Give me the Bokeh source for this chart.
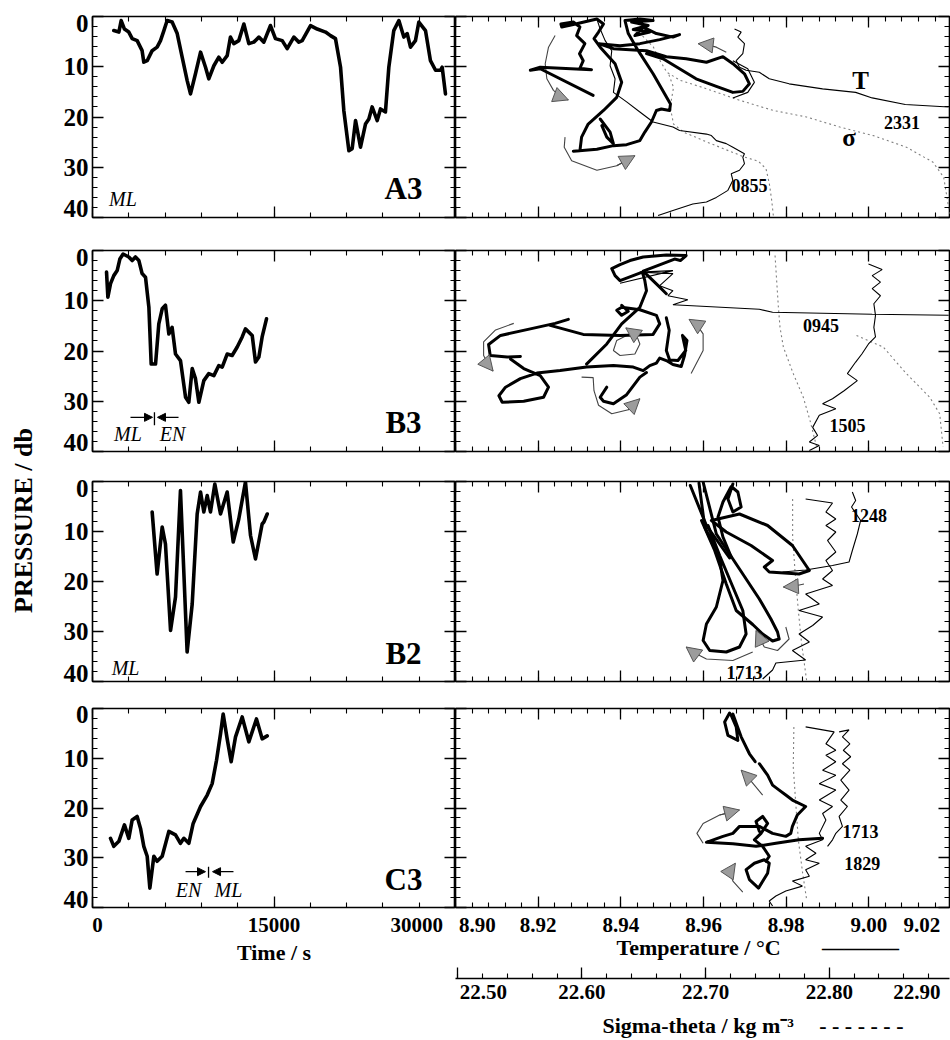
import math
from bokeh.plotting import figure
from bokeh.models import Range1d, LinearAxis, FixedTicker, Arrow, NormalHead
from bokeh.layouts import row, column
from bokeh.embed import file_html
from bokeh.resources import INLINE
from bokeh.core.properties import value

FONT = "Liberation Serif"

# ---------------- axis ticks and labels ----------------
time_ticks = [0, 15000, 30000]
time_minor = [0, 3000, 6000, 9000, 12000, 15000, 18000, 21000, 24000, 27000, 30000]
time_labels = ["0", "15000", "30000"]
time_label_at = [420, 15000, 26800]

pres_ticks = [0, 10, 20, 30, 40]
pres_minor = [0, 2, 4, 6, 8, 10, 12, 14, 16, 18, 20, 22, 24, 26, 28, 30, 32, 34, 36, 38, 40]
pres_labels = ["0", "10", "20", "30", "40"]
pres_label_at = [1.3, 10, 20, 30, 38.3]

temp_ticks = [8.90, 8.92, 8.94, 8.96, 8.98, 9.00, 9.02]
temp_minor = [round(8.90 + 0.004 * i, 3) for i in range(31)]
temp_labels = ["8.90", "8.92", "8.94", "8.96", "8.98", "9.00", "9.02"]
temp_label_at = [8.9053, 8.92, 8.94, 8.96, 8.98, 9.00, 9.0128]

sig_ticks = [22.5, 22.6, 22.7, 22.8, 22.9]
sig_minor = [round(22.5 + 0.02 * i, 2) for i in range(21)]
sig_labels = ["22.50", "22.60", "22.70", "22.80", "22.90"]
sig_label_at = [22.5206, 22.6, 22.7, 22.8, 22.8706]

# axis titles with their line-style samples (solid = temperature, dashed = sigma-theta)
temp_title_at = [8.9588, 8.9980]
temp_title_text = ["Temperature / °C", "———–"]
sig_title_at = [22.694, 22.8258]
sig_title_text = ["Sigma-theta / kg m⁻³", "- - - - - - -"]

# ---------------- left panels: pressure vs time ----------------
A3_time = [1760, 2180, 2370, 2640, 3000, 3280, 3690, 4100, 4240, 4520, 4930, 5340, 5620, 5900, 6170,
           6580, 7000, 7410, 7820, 8100, 8510, 8930, 9340, 9610, 10030, 10440, 10720, 11130, 11400, 11680,
           12090, 12510, 12920, 13330, 13750, 14160, 14710, 15120, 15680, 16090, 16640, 17050, 17330, 18020,
           18570, 19260, 19670, 20080, 20500, 20770, 21190, 21460, 21740, 22150, 22560, 22840, 23110, 23530,
           23800, 24210, 24490, 24900, 25320, 25730, 26010, 26280, 26690, 26970, 27520, 27930, 28350, 28760,
           28900, 29170]
A3_pres = [2.8, 3.1, 0.8, 2.5, 3.1, 4.4, 4.8, 6.8, 9.1, 8.8, 6.8, 6.1, 4.8, 2.8, 0.8,
           1.1, 3.4, 8.1, 12.7, 15.4, 11.4, 7.1, 10.1, 12.4, 9.8, 8.1, 9.1, 7.8, 4.1, 5.4,
           4.8, 1.5, 5.4, 5.1, 4.1, 5.1, 1.8, 4.4, 4.8, 6.4, 4.1, 5.1, 4.8, 1.8,
           2.5, 3.1, 3.8, 4.4, 10.1, 18.7, 26.7, 26.3, 20.7, 26.0, 21.4, 20.4, 18.0, 20.7,
           18.4, 19.0, 10.1, 2.8, 0.8, 4.1, 3.4, 6.1, 4.8, 1.1, 2.8, 8.8, 10.7, 10.7,
           10.1, 15.4]

B3_time = [1160, 1270, 1490, 1760, 2040, 2260, 2530, 3000, 3280, 3550, 3830, 4100, 4380, 4660, 4850,
           5210, 5480, 5760, 6030, 6310, 6580, 6860, 7270, 7690, 7960, 8240, 8510, 8790, 9200, 9610,
           10030, 10440, 10720, 11130, 11540, 11960, 12370, 12640, 13200, 13470, 13750, 14020, 14380]
B3_pres = [4.3, 9.3, 6.6, 5.0, 4.0, 1.7, 0.7, 1.3, 2.0, 1.3, 2.0, 4.6, 5.3, 11.3, 22.6,
           22.6, 14.6, 11.6, 10.9, 16.6, 15.3, 20.6, 21.9, 29.2, 30.2, 23.5, 25.5, 30.2, 25.9, 24.5,
           24.9, 22.9, 23.2, 20.6, 20.9, 19.2, 17.2, 15.6, 16.9, 22.2, 21.2, 17.2, 13.6]

B2_time = [4930, 5340, 5760, 6030, 6450, 6860, 7270, 7820, 8240, 8650, 8930, 9200, 9480, 9750, 10110,
           10580, 11130, 11630, 12090, 12640, 13060, 13470, 14020, 14160, 14440]
B2_pres = [6.1, 18.5, 9.1, 12.5, 29.8, 23.1, 1.8, 34.1, 24.5, 6.5, 2.1, 6.1, 2.8, 6.1, 0.5,
           6.5, 2.1, 12.1, 7.5, 0.1, 10.8, 15.5, 8.5, 8.1, 6.5]

C3_time = [1490, 1760, 2180, 2640, 3000, 3280, 3690, 3970, 4240, 4520, 4740, 5070, 5340, 5760, 6310,
           6860, 7270, 7550, 7960, 8320, 8930, 9480, 9890, 10250, 10580, 10800, 11130, 11460, 11820, 12370,
           12920, 13550, 14020, 14440]
C3_pres = [26.1, 27.7, 26.7, 23.4, 26.1, 22.4, 21.7, 24.1, 27.7, 29.7, 36.1, 29.7, 30.7, 29.7, 24.7,
           25.4, 27.1, 26.1, 27.1, 23.1, 19.7, 17.4, 15.1, 10.4, 5.1, 1.1, 6.1, 10.7, 5.7, 1.7,
           6.7, 2.1, 6.1, 5.5]

panel_names = ["A3", "B3", "B2", "C3"]
name_time, name_pres = 25700, 34.3

# mixed-layer / entrainment markers
A3_ml_text, A3_ml_time, A3_ml_pres = ["ML"], [2520], [36.3]
B2_ml_text, B2_ml_time, B2_ml_pres = ["ML"], [2730], [37.2]
B3_mk_text, B3_mk_time, B3_mk_pres = ["ML", "EN"], [2930, 6610], [36.5, 36.5]
B3_bar_time, B3_bar_p0, B3_bar_p1 = 5120, 32.2, 34.8
B3_arr_from, B3_arr_to, B3_arr_pres = [3140, 7110], [4960, 5370], 33.2
C3_mk_text, C3_mk_time, C3_mk_pres = ["EN", "ML"], [7930, 11240], [36.4, 36.4]
C3_bar_time, C3_bar_p0, C3_bar_p1 = 9590, 31.8, 34.0
C3_arr_from, C3_arr_to, C3_arr_pres = [7690, 11650], [9340, 9920], 32.8

# ---------------- right panels: temperature / sigma-theta vs pressure ----------------
A3_prof_T = [[8.9490, 8.9526, 8.9574, 8.9607, 8.9631, 8.9659, 8.9671, 8.9667, 8.9687, 8.9699, 8.9695, 8.9699,
              8.9671, 8.9655, 8.9631, 8.9619, 8.9607, 8.9542, 8.9526, 8.9478, 8.9446, 8.9414, 8.9382, 8.9386,
              8.9374, 8.9378, 8.9362, 8.9350, 8.9342],
             [9.0193, 9.0088, 9.0008, 8.9968, 8.9888, 8.9807, 8.9759, 8.9735, 8.9703, 8.9687, 8.9679, 8.9695,
              8.9699, 8.9683, 8.9691, 8.9675],
             [8.9671, 8.9707, 8.9723, 8.9707, 8.9671]]
A3_prof_p = [[39.6, 38.6, 37.3, 36.9, 36.0, 34.6, 32.6, 31.3, 30.6, 29.3, 28.0, 27.3,
              26.0, 25.3, 24.7, 23.7, 23.4, 22.7, 22.0, 21.0, 19.0, 17.0, 15.1, 12.4,
              9.8, 6.8, 4.8, 2.5, 0.5],
             [18.0, 17.5, 16.2, 15.1, 14.4, 13.4, 12.4, 11.1, 10.7, 10.1, 8.8, 7.4, 5.4, 4.1, 3.1, 2.5],
             [8.8, 10.4, 13.1, 15.1, 16.2]]
A3_sig_s = [[22.8972, 22.8923, 22.8837, 22.8622, 22.8354, 22.8085, 22.7816, 22.7547, 22.7278, 22.7010,
             22.6795, 22.6687, 22.6633, 22.6579, 22.6472],
            [22.7547, 22.7534, 22.7515, 22.7488, 22.7426, 22.7305, 22.7144, 22.6983, 22.6822, 22.6741,
             22.6714, 22.6741, 22.6701]]
A3_sig_p = [[39.3, 32.0, 29.0, 26.0, 23.7, 22.0, 20.0, 18.7, 16.7, 14.4, 12.7, 11.1, 8.8, 6.1, 3.4],
            [39.6, 36.6, 33.3, 30.3, 28.8, 27.9, 26.3, 24.7, 23.0, 21.4, 18.0, 14.1, 11.4]]
A3_trk_T = [[8.9333, 8.9205, 8.9181, 8.9205, 8.9329, 8.9301, 8.9309, 8.9300, 8.9313, 8.9293, 8.9301, 8.9285,
             8.9255, 8.9257, 8.9285, 8.9342, 8.9358, 8.9346, 8.9335, 8.9350, 8.9386, 8.9402, 8.9390, 8.9358,
             8.9321, 8.9305, 8.9301, 8.9285, 8.9342, 8.9382, 8.9414, 8.9446, 8.9458, 8.9474, 8.9486, 8.9498,
             8.9518, 8.9520, 8.9478, 8.9442, 8.9418, 8.9410, 8.9446, 8.9478, 8.9426, 8.9466, 8.9430, 8.9470,
             8.9434, 8.9454, 8.9486, 8.9526, 8.9542, 8.9494, 8.9446, 8.9398, 8.9346, 8.9382, 8.9462, 8.9510,
             8.9558, 8.9607, 8.9647, 8.9671, 8.9699, 8.9711, 8.9695, 8.9671, 8.9631, 8.9582, 8.9542, 8.9502,
             8.9462],
            [8.9350, 8.9374, 8.9382, 8.9366, 8.9354]]
A3_trk_p = [[15.7, 10.4, 10.7, 10.1, 10.6, 10.3, 8.8, 7.4, 5.4, 3.8, 2.1, 1.1,
             1.5, 2.1, 1.6, 0.5, 1.5, 3.1, 4.4, 6.1, 9.4, 13.1, 16.1, 18.7,
             21.4, 24.0, 26.7, 26.8, 26.4, 25.7, 25.5, 24.7, 23.0, 21.0, 18.7, 18.4,
             18.7, 17.4, 11.4, 6.8, 3.4, 0.8, 0.5, 0.8, 1.1, 1.8, 2.6, 3.1,
             3.8, 2.1, 3.4, 4.1, 3.6, 4.6, 5.4, 5.8, 5.4, 6.4, 6.8, 8.0,
             8.4, 9.1, 8.0, 9.4, 11.4, 13.4, 14.9, 15.1, 13.9, 12.4, 10.4, 8.4,
             7.4],
            [20.4, 23.0, 25.3, 24.0, 21.7]]
A3_arr_T = [[8.9241, 8.9225, 8.9217, 8.9221, 8.9237, 8.9257, 8.9273],
            [8.9265, 8.9263, 8.9281, 8.9342, 8.9390, 8.9434],
            [8.9655, 8.9631, 8.9607, 8.9587]]
A3_arr_p = [[3.8, 6.1, 9.4, 12.4, 14.7, 16.1, 16.6],
            [24.0, 26.0, 28.7, 30.6, 29.7, 27.7],
            [7.1, 6.1, 5.6, 5.4]]
A3_sym, A3_sym_T, A3_sym_p = ["T", "σ"], [8.9980, 8.9952], [12.7, 24.0]
A3_tag, A3_tag_T, A3_tag_p = ["2331", "0855"], [9.0080, 8.9711], [21.0, 33.6]

B3_prof_T = [[9.0193, 9.0008, 8.9767, 8.9735, 8.9526, 8.9562, 8.9514, 8.9526, 8.9494, 8.9526, 8.9446, 8.9526,
              8.9398],
             [8.9999, 9.0032, 9.0008, 9.0028, 9.0008, 9.0028, 9.0012, 9.0016, 9.0012, 9.0016, 8.9999, 8.9983,
              8.9968, 8.9948, 8.9972, 8.9940, 8.9912, 8.9888, 8.9920, 8.9880, 8.9864, 8.9876, 8.9856, 8.9880,
              8.9856]]
B3_prof_p = [[12.9, 12.7, 12.3, 11.7, 10.8, 9.8, 9.0, 8.0, 7.0, 4.6, 4.3, 4.0, 6.5],
             [2.7, 3.8, 5.0, 6.3, 7.6, 9.0, 10.6, 12.9, 15.3, 17.2, 18.6, 20.6,
              22.2, 24.5, 25.9, 27.9, 29.5, 30.5, 31.5, 32.8, 35.2, 36.8, 38.1, 38.8, 39.8]]
B3_sig_s = [[22.7561, 22.7574, 22.7588, 22.7601, 22.7628, 22.7708, 22.7789, 22.7843, 22.7897],
            [22.8219, 22.8434, 22.8622, 22.8810, 22.8891, 22.8918]]
B3_sig_p = [[1.0, 6.0, 11.3, 15.3, 19.2, 24.5, 29.2, 33.8, 39.1],
            [16.9, 19.2, 24.5, 29.2, 32.5, 39.1]]
B3_trk_T = [[8.9273, 8.9241, 8.9181, 8.9109, 8.9080, 8.9084, 8.9125, 8.9157],
            [8.9133, 8.9165, 8.9205, 8.9225, 8.9213, 8.9165, 8.9113, 8.9105, 8.9121, 8.9157, 8.9197, 8.9253,
             8.9317, 8.9382, 8.9430, 8.9454, 8.9470, 8.9486, 8.9494, 8.9510, 8.9526, 8.9546, 8.9554, 8.9560,
             8.9549, 8.9557, 8.9538, 8.9518, 8.9510, 8.9517, 8.9510],
            [8.9229, 8.9309, 8.9398, 8.9478, 8.9494, 8.9486, 8.9446, 8.9402, 8.9390, 8.9402, 8.9418, 8.9402],
            [8.9317, 8.9366, 8.9402, 8.9446, 8.9462, 8.9458, 8.9452, 8.9398, 8.9386, 8.9378, 8.9398, 8.9422,
             8.9454, 8.9510, 8.9558, 8.9544, 8.9530, 8.9454, 8.9494, 8.9510],
            [8.9366, 8.9350, 8.9358, 8.9382, 8.9414, 8.9446, 8.9462]]
B3_trk_p = [[13.7, 14.5, 15.6, 16.9, 18.7, 20.9, 21.2, 21.1],
            [21.6, 23.5, 24.9, 27.2, 29.2, 30.0, 30.2, 28.9, 27.2, 25.5, 24.4, 23.9,
             23.2, 22.9, 23.2, 23.9, 22.9, 22.4, 21.4, 21.9, 22.7, 23.1, 20.9, 17.9,
             16.9, 19.9, 21.9, 21.8, 19.9, 15.9, 13.4],
            [14.9, 16.7, 16.9, 16.7, 14.6, 12.9, 11.8, 11.3, 11.9, 12.9, 12.1, 10.9],
            [22.6, 18.6, 14.6, 11.3, 8.0, 6.0, 4.3, 6.0, 5.0, 3.6, 2.8, 2.0,
             1.3, 0.9, 1.0, 2.0, 1.7, 4.1, 7.3, 8.6],
            [27.2, 29.2, 30.0, 30.5, 28.7, 25.2, 24.3]]
B3_arr_T = [[8.9141, 8.9097, 8.9068, 8.9068, 8.9083, 8.9091],
            [8.9305, 8.9333, 8.9335, 8.9346, 8.9378, 8.9418, 8.9446],
            [8.9570, 8.9599, 8.9599, 8.9582, 8.9565],
            [8.9414, 8.9390, 8.9382, 8.9398, 8.9434, 8.9446, 8.9438, 8.9412]]
B3_arr_p = [[14.5, 15.8, 18.2, 20.9, 23.2, 24.0],
            [25.2, 25.3, 27.9, 30.8, 32.5, 31.7, 29.5],
            [24.5, 19.9, 16.6, 14.6, 13.7],
            [16.9, 17.9, 19.9, 20.9, 20.6, 18.6, 16.9, 15.4]]
B3_tag, B3_tag_T, B3_tag_p = ["0945", "1505"], [8.9884, 8.9948], [14.9, 34.8]

B2_prof_T = [[8.9960, 8.9968, 8.9958, 8.9980, 8.9972, 8.9960, 8.9952, 8.9912, 8.9847, 8.9791],
             [8.9847, 8.9912, 8.9896, 8.9920, 8.9896, 8.9920, 8.9900, 8.9920, 8.9896, 8.9912, 8.9888, 8.9912,
              8.9847, 8.9880, 8.9831, 8.9888, 8.9864, 8.9831, 8.9856, 8.9815, 8.9847, 8.9775, 8.9767, 8.9743]]
B2_prof_p = [[2.1, 3.8, 5.1, 7.8, 10.5, 13.8, 16.1, 16.8, 17.7, 18.1],
             [3.5, 4.3, 6.1, 7.5, 8.8, 10.1, 11.8, 14.1, 15.8, 17.8, 19.5, 20.8,
              22.5, 24.5, 25.8, 27.1, 28.8, 30.5, 32.1, 33.8, 35.7, 36.3, 37.7, 39.5]]
B2_sig_s = [[22.7703, 22.7703, 22.7722, 22.7749, 22.7776, 22.7816]]
B2_sig_p = [[3.5, 11.1, 17.8, 25.8, 32.5, 39.8]]
B2_trk_T = [[8.9568, 8.9607, 8.9663],
            [8.9589, 8.9603, 8.9639, 8.9647, 8.9631, 8.9607, 8.9599, 8.9615, 8.9655, 8.9687, 8.9703, 8.9695,
             8.9671, 8.9639, 8.9611],
            [8.9599, 8.9631, 8.9687, 8.9735, 8.9763, 8.9779, 8.9783, 8.9767, 8.9743, 8.9719, 8.9679, 8.9655,
             8.9627, 8.9595],
            [8.9619, 8.9687, 8.9755, 8.9815, 8.9856, 8.9831, 8.9759, 8.9747, 8.9767, 8.9715, 8.9655, 8.9619],
            [8.9671, 8.9659, 8.9671, 8.9691, 8.9683, 8.9667, 8.9647, 8.9635, 8.9647, 8.9667, 8.9655]]
B2_trk_p = [[0.8, 8.8, 15.3],
            [0.3, 9.1, 15.5, 19.8, 25.1, 28.5, 31.8, 33.8, 34.1, 33.1, 30.5, 25.8, 21.1, 14.8, 8.8],
            [0.1, 10.5, 17.5, 23.5, 27.5, 30.1, 31.5, 31.9, 30.5, 28.6, 25.8, 20.5, 13.8, 7.8],
            [7.8, 6.5, 8.8, 12.8, 17.8, 18.5, 18.1, 17.1, 15.8, 12.8, 10.1, 7.8],
            [0.5, 3.5, 6.1, 5.1, 2.1, 1.0, 4.1, 7.1, 11.1, 15.1, 13.1]]
B2_arr_T = [[8.9719, 8.9671, 8.9607, 8.9574, 8.9558],
            [8.9843, 8.9815, 8.9793],
            [8.9799, 8.9807, 8.9779, 8.9747, 8.9734, 8.9727]]
B2_arr_p = [[34.1, 35.8, 35.5, 34.1, 33.1],
            [20.5, 21.0, 21.1],
            [29.1, 31.5, 33.8, 33.1, 31.1, 29.8]]
B2_tag, B2_tag_T, B2_tag_p = ["1248", "1713"], [9.0000, 8.9699], [6.8, 38.1]

C3_prof_T = [[8.9847, 8.9916, 8.9896, 8.9920, 8.9896, 8.9920, 8.9888, 8.9920, 8.9880, 8.9920, 8.9880, 8.9912,
              8.9888, 8.9896, 8.9880, 8.9888, 8.9847, 8.9872, 8.9847, 8.9880, 8.9847, 8.9856, 8.9815, 8.9839,
              8.9799, 8.9775, 8.9759, 8.9767],
             [8.9928, 8.9952, 8.9936, 8.9954, 8.9938, 8.9956, 8.9936, 8.9954, 8.9932, 8.9952, 8.9932, 8.9948,
              8.9928, 8.9936, 8.9920, 8.9912, 8.9900]]
C3_prof_p = [[3.7, 4.7, 7.1, 8.4, 9.4, 10.7, 12.4, 13.4, 15.1, 16.4, 18.4, 19.7,
              21.1, 22.4, 25.1, 26.4, 27.7, 29.1, 30.4, 31.1, 32.4, 33.7, 34.7, 35.7,
              36.7, 37.7, 38.7, 39.7],
             [4.7, 4.3, 5.7, 7.1, 8.4, 9.7, 11.1, 12.4, 14.4, 16.4, 18.4, 19.7,
              21.7, 23.7, 25.1, 26.4, 27.7]]
C3_sig_s = [[22.7713, 22.7708, 22.7730, 22.7749, 22.7784, 22.7816]]
C3_sig_p = [[3.7, 11.7, 19.7, 26.4, 33.1, 38.4]]
C3_trk_T = [[8.9663, 8.9651, 8.9659, 8.9683, 8.9679, 8.9667, 8.9671, 8.9691, 8.9711, 8.9725],
            [8.9735, 8.9755, 8.9767, 8.9783, 8.9799, 8.9815, 8.9847, 8.9827, 8.9815, 8.9811, 8.9799, 8.9767,
             8.9735, 8.9687, 8.9671, 8.9647, 8.9607, 8.9671, 8.9727, 8.9775, 8.9831, 8.9888],
            [8.9735, 8.9727, 8.9743, 8.9755, 8.9739, 8.9723, 8.9743, 8.9759, 8.9751],
            [8.9747, 8.9723, 8.9703, 8.9711, 8.9733, 8.9755, 8.9759, 8.9747]]
C3_trk_p = [[0.9, 2.7, 5.4, 6.4, 3.7, 1.4, 1.1, 5.7, 9.1, 10.7],
            [11.1, 13.4, 15.4, 16.4, 17.4, 18.4, 19.7, 21.4, 23.7, 25.1, 25.7, 25.1,
             23.7, 23.7, 25.1, 25.7, 26.9, 27.2, 27.7, 27.1, 26.4, 26.1],
            [24.7, 22.7, 21.7, 23.1, 25.1, 26.4, 27.7, 29.7, 30.7],
            [30.4, 31.1, 32.4, 34.4, 36.1, 33.1, 31.1, 30.4]]
C3_arr_T = [[8.9743, 8.9723, 8.9703, 8.9691],
            [8.9599, 8.9584, 8.9599, 8.9639, 8.9687],
            [8.9695, 8.9671, 8.9664, 8.9677]]
C3_arr_p = [[17.4, 15.4, 13.4, 12.4],
            [27.1, 25.1, 23.1, 21.4, 20.4],
            [36.9, 34.7, 32.7, 31.1]]
C3_tag, C3_tag_T, C3_tag_p = ["1713", "1829"], [8.9980, 8.9984], [24.7, 31.1]

# ---------------- helpers ----------------
time_range = Range1d(0, 30000)
temp_range = Range1d(8.90, 9.0195)
pres_range = Range1d(40, 0)


def ticks_only(ticks, minor, **kw):
    return LinearAxis(ticker=FixedTicker(ticks=ticks, minor_ticks=minor),
                      axis_line_color=None, major_tick_in=11, major_tick_out=0,
                      minor_tick_in=5, minor_tick_out=0,
                      major_tick_line_color="black", minor_tick_line_color="black",
                      major_tick_line_width=1.3, minor_tick_line_width=1.1,
                      major_label_overrides={t: "" for t in ticks},
                      major_label_text_font_size="0px", major_label_standoff=0, **kw)


def labels_only(pos, labels, size, standoff, title=None, title_standoff=0, title_size="22px", **kw):
    ax = LinearAxis(ticker=FixedTicker(ticks=pos, minor_ticks=[]),
                    axis_line_color=None, major_tick_line_color=None, minor_tick_line_color=None,
                    major_tick_in=0, major_tick_out=0, minor_tick_in=0, minor_tick_out=0,
                    major_label_overrides=dict(zip(pos, labels)),
                    major_label_text_font=FONT, major_label_text_font_style="bold",
                    major_label_text_color="black",
                    major_label_text_font_size=size, major_label_standoff=standoff, **kw)
    if title:
        ax.axis_label = title
        ax.axis_label_text_font = FONT
        ax.axis_label_text_font_style = "bold"
        ax.axis_label_text_color = "black"
        ax.axis_label_text_font_size = title_size
        ax.axis_label_standoff = title_standoff
    return ax


def base_fig(xr, w, h, top, bottom, left, right):
    return figure(width=w, height=h, x_range=xr, y_range=pres_range,
                  x_axis_type=None, y_axis_type=None, toolbar_location=None,
                  output_backend="svg", min_border_top=top, min_border_bottom=bottom,
                  min_border_left=left, min_border_right=right,
                  outline_line_color="black", outline_line_width=1.6,
                  background_fill_color="white", border_fill_color="white")


def left_fig(h, top, bottom, last):
    p = base_fig(time_range, 410, h, top, bottom, 47, 0)
    p.add_layout(ticks_only(pres_ticks, pres_minor), "left")
    p.add_layout(labels_only(pres_label_at, pres_labels, "25px", 4), "left")
    p.add_layout(ticks_only(pres_ticks, pres_minor), "right")
    p.add_layout(ticks_only(time_ticks, time_minor), "above")
    p.add_layout(ticks_only(time_ticks, time_minor), "below")
    if last:
        p.add_layout(labels_only(time_label_at, time_labels, "21px", 10, "Time / s", 5), "below")
    return p


def right_fig(h, top, bottom, last):
    p = base_fig(temp_range, 495, h, top, bottom, 0, 1)
    p.extra_x_ranges = {"sigma": Range1d(22.498, 22.897)}
    p.add_layout(ticks_only(pres_ticks, pres_minor), "left")
    p.add_layout(ticks_only(pres_ticks, pres_minor), "right")
    p.add_layout(ticks_only(temp_ticks, temp_minor), "above")
    p.add_layout(ticks_only(temp_ticks, temp_minor), "below")
    if last:
        p.add_layout(labels_only(temp_label_at, temp_labels, "21px", 10), "below")
        p.add_layout(labels_only(temp_title_at, temp_title_text, "22px", 0), "below")
        spacer = LinearAxis(ticker=FixedTicker(ticks=[8.96], minor_ticks=[]), axis_line_color=None,
                            major_tick_line_color=None, minor_tick_line_color=None,
                            major_tick_in=0, major_tick_out=16, minor_tick_in=0, minor_tick_out=0,
                            major_label_overrides={8.96: ""}, major_label_text_font_size="0px",
                            major_label_standoff=0)
        p.add_layout(spacer, "below")
        sax = ticks_only(sig_ticks, sig_minor, x_range_name="sigma")
        sax.axis_line_color = "black"
        sax.axis_line_width = 1.5
        p.add_layout(sax, "below")
        p.add_layout(labels_only(sig_label_at, sig_labels, "21px", 6, x_range_name="sigma"), "below")
        p.add_layout(labels_only(sig_title_at, sig_title_text, "22px", 11, x_range_name="sigma"), "below")
    return p


def draw_left(p, t, pr, name):
    p.line(t, pr, line_width=3.6, line_color="black", line_join="round", line_cap="round")
    p.text(x=[name_time], y=[name_pres], text=[name], text_font=value(FONT), text_font_style="bold",
           text_color="black", text_font_size="31px", text_align="center", text_baseline="middle")


def italic(p, xs, ys, txt):
    p.text(x=xs, y=ys, text=txt, text_font=value(FONT), text_font_style="italic", text_color="black",
           text_font_size="20px", text_align="center", text_baseline="middle")


def markers(p, bar_t, b0, b1, a_from, a_to, a_p):
    p.segment(x0=[bar_t], y0=[b0], x1=[bar_t], y1=[b1], line_color="black", line_width=1.3)
    for f, t in zip(a_from, a_to):
        p.add_layout(Arrow(end=NormalHead(size=8, fill_color="black", line_color="black"),
                           x_start=f, y_start=a_p, x_end=t, y_end=a_p, line_color="black", line_width=1.3))


def draw_right(p, prof_T, prof_p, sig_s, sig_p, trk_T, trk_p, arr_T, arr_p, tags, tag_T, tag_p):
    p.multi_line(sig_s, sig_p, line_color="#808080", line_width=1.1, line_dash="2 3", x_range_name="sigma")
    p.multi_line(prof_T, prof_p, line_color="black", line_width=1.1)
    p.multi_line(arr_T, arr_p, line_color="#444444", line_width=1.1)
    p.multi_line(trk_T, trk_p, line_color="black", line_width=3.0, line_join="round", line_cap="round")
    for xs, ys in zip(arr_T, arr_p):
        p.add_layout(Arrow(end=NormalHead(size=15, fill_color="#9c9c9c", line_color="#555555", line_width=1),
                           x_start=xs[-2], y_start=ys[-2], x_end=xs[-1], y_end=ys[-1],
                           line_color="#444444", line_width=1.1))
    p.text(x=tag_T, y=tag_p, text=tags, text_font=value(FONT), text_font_style="bold", text_color="black",
           text_font_size="18px", text_align="center", text_baseline="middle")


# ---------------- build ----------------
L1 = left_fig(233, 16, 16, False)
R1 = right_fig(233, 16, 16, False)
L2 = left_fig(232, 17, 14, False)
R2 = right_fig(232, 17, 14, False)
L3 = left_fig(229, 16, 13, False)
R3 = right_fig(229, 16, 13, False)
L4 = left_fig(346, 14, 132, True)
R4 = right_fig(346, 14, 132, True)

draw_left(L1, A3_time, A3_pres, panel_names[0])
italic(L1, A3_ml_time, A3_ml_pres, A3_ml_text)
draw_left(L2, B3_time, B3_pres, panel_names[1])
italic(L2, B3_mk_time, B3_mk_pres, B3_mk_text)
markers(L2, B3_bar_time, B3_bar_p0, B3_bar_p1, B3_arr_from, B3_arr_to, B3_arr_pres)
draw_left(L3, B2_time, B2_pres, panel_names[2])
italic(L3, B2_ml_time, B2_ml_pres, B2_ml_text)
draw_left(L4, C3_time, C3_pres, panel_names[3])
italic(L4, C3_mk_time, C3_mk_pres, C3_mk_text)
markers(L4, C3_bar_time, C3_bar_p0, C3_bar_p1, C3_arr_from, C3_arr_to, C3_arr_pres)

draw_right(R1, A3_prof_T, A3_prof_p, A3_sig_s, A3_sig_p, A3_trk_T, A3_trk_p, A3_arr_T, A3_arr_p,
           A3_tag, A3_tag_T, A3_tag_p)
R1.text(x=A3_sym_T, y=A3_sym_p, text=A3_sym, text_font=value(FONT), text_font_style="bold",
        text_color="black", text_font_size="25px", text_align="center", text_baseline="middle")
draw_right(R2, B3_prof_T, B3_prof_p, B3_sig_s, B3_sig_p, B3_trk_T, B3_trk_p, B3_arr_T, B3_arr_p,
           B3_tag, B3_tag_T, B3_tag_p)
draw_right(R3, B2_prof_T, B2_prof_p, B2_sig_s, B2_sig_p, B2_trk_T, B2_trk_p, B2_arr_T, B2_arr_p,
           B2_tag, B2_tag_T, B2_tag_p)
draw_right(R4, C3_prof_T, C3_prof_p, C3_sig_s, C3_sig_p, C3_trk_T, C3_trk_p, C3_arr_T, C3_arr_p,
           C3_tag, C3_tag_T, C3_tag_p)

ylab = figure(width=45, height=1040, x_range=Range1d(0, 1), y_range=Range1d(0, 1),
              x_axis_type=None, y_axis_type=None, toolbar_location=None, output_backend="svg",
              min_border=0, outline_line_color=None, border_fill_color="white", background_fill_color="white")
ylab.text(x=[0.5], y=[0.5], text=["PRESSURE / db"], angle=math.pi / 2, text_font=value(FONT),
          text_font_style="bold", text_color="black", text_font_size="26px", text_align="center",
          text_baseline="middle")

grid = column(row(L1, R1), row(L2, R2), row(L3, R3), row(L4, R4))
layout = row(ylab, grid)

open("out.html", "w").write(file_html(layout, INLINE))
